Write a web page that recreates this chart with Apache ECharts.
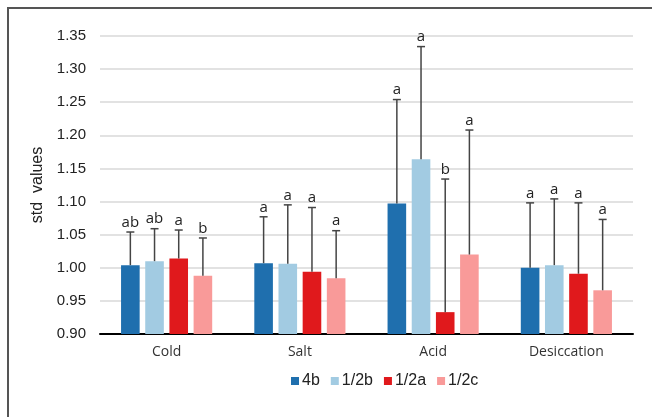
<!DOCTYPE html>
<html>
<head>
<meta charset="utf-8">
<script src="https://cdn.jsdelivr.net/npm/echarts@6/dist/echarts.min.js"></script>
<style>
  html, body { margin: 0; padding: 0; background: #fff; }
  #chart { width: 652px; height: 417px; }
  /* frame lines of the cropped figure */
  .frame { position: absolute; left: 7px; top: 7px; width: 660px; height: 420px;
           border-left: 2px solid #555; border-top: 2px solid #555; pointer-events: none; }
</style>
</head>
<body>
<div id="chart"></div>
<div class="frame"></div>
<script>
// categories and groups
const categories = ["Cold", "Salt", "Acid", "Desiccation"];
const groups = ["4b", "1/2b", "1/2a", "1/2c"];
const colors = ["#1f6fae", "#a2cbe2", "#e0191c", "#f99a99"];

// mean values per group (Cold, Salt, Acid, Desiccation)
const val4b  = [1.004, 1.007, 1.097, 1.000];
const val2b  = [1.010, 1.006, 1.164, 1.004];
const val2a  = [1.014, 0.994, 0.933, 0.991];
const val2c  = [0.988, 0.984, 1.020, 0.966];

// top of error bars
const err4b = [1.054, 1.077, 1.254, 1.098];
const err2b = [1.059, 1.095, 1.334, 1.104];
const err2a = [1.057, 1.091, 1.134, 1.098];
const err2c = [1.045, 1.056, 1.208, 1.073];

// significance letters
const let4b = ["ab", "a", "a", "a"];
const let2b = ["ab", "a", "a", "a"];
const let2a = ["a", "a", "b", "a"];
const let2c = ["b", "a", "a", "a"];

const values = [val4b, val2b, val2a, val2c];
const errs = [err4b, err2b, err2a, err2c];
const letters = [let4b, let2b, let2a, let2c];

const catGap = 0.316;
const barGap = 0.3;

const chart = echarts.init(document.getElementById("chart"));

const series = [];
groups.forEach((g, i) => {
  series.push({
    name: g,
    type: "bar",
    data: values[i],
    itemStyle: { color: colors[i] },
    barGap: barGap * 100 + "%",
    barCategoryGap: catGap * 100 + "%",
    z: 2
  });
});
groups.forEach((g, i) => {
  series.push({
    name: g + "_err",
    type: "custom",
    data: errs[i].map((e, k) => [k, values[i][k], e]),
    z: 3,
    renderItem(params, api) {
      const k = api.value(0);
      const band = api.size([1, 0])[0];
      const used = band * (1 - catGap);
      const w = used / (4 + 3 * barGap);
      const x = api.coord([k, 0])[0] - used / 2 + w / 2 + i * w * (1 + barGap);
      const y0 = api.coord([k, api.value(1)])[1];
      const y1 = api.coord([k, api.value(2)])[1];
      const style = { stroke: "#444", lineWidth: 1.5 };
      return {
        type: "group",
        children: [
          { type: "line", shape: { x1: x, y1: y0, x2: x, y2: y1 }, style },
          { type: "line", shape: { x1: x - 4, y1: y1, x2: x + 4, y2: y1 }, style },
          { type: "text", x: x, y: y1 - 2,
            style: { text: letters[i][k], fill: "#222", font: "15px 'Open Sans', sans-serif",
                     align: "center", verticalAlign: "bottom" } }
        ]
      };
    }
  });
});

chart.setOption({
  animation: false,
  grid: { left: 100, right: 19, top: 36, bottom: 83 },
  legend: {
    data: groups,
    left: 286,
    top: 368,
    itemWidth: 8,
    itemHeight: 8,
    itemGap: 11,
    icon: "rect",
    textStyle: { fontFamily: "Liberation Sans", fontSize: 16, color: "#222", padding: [0, 0, 0, -2] }
  },
  xAxis: {
    type: "category",
    data: categories,
    axisTick: { show: false },
    axisLine: { lineStyle: { color: "#000", width: 2 } },
    axisLabel: { color: "#333", fontSize: 14, fontFamily: "Open Sans", margin: 11 }
  },
  yAxis: {
    type: "value",
    min: 0.9,
    max: 1.35,
    interval: 0.05,
    name: "std  values",
    nameLocation: "middle",
    nameGap: 53,
    nameTextStyle: { fontFamily: "Liberation Sans", fontSize: 16, color: "#222" },
    axisLabel: { formatter: v => v.toFixed(2), color: "#222", fontSize: 15,
                 fontFamily: "Liberation Sans", margin: 14 },
    splitLine: { lineStyle: { color: "#d9d9d9", width: 1.5 } },
    axisLine: { show: false },
    axisTick: { show: false }
  },
  series
});
</script>
</body>
</html>
